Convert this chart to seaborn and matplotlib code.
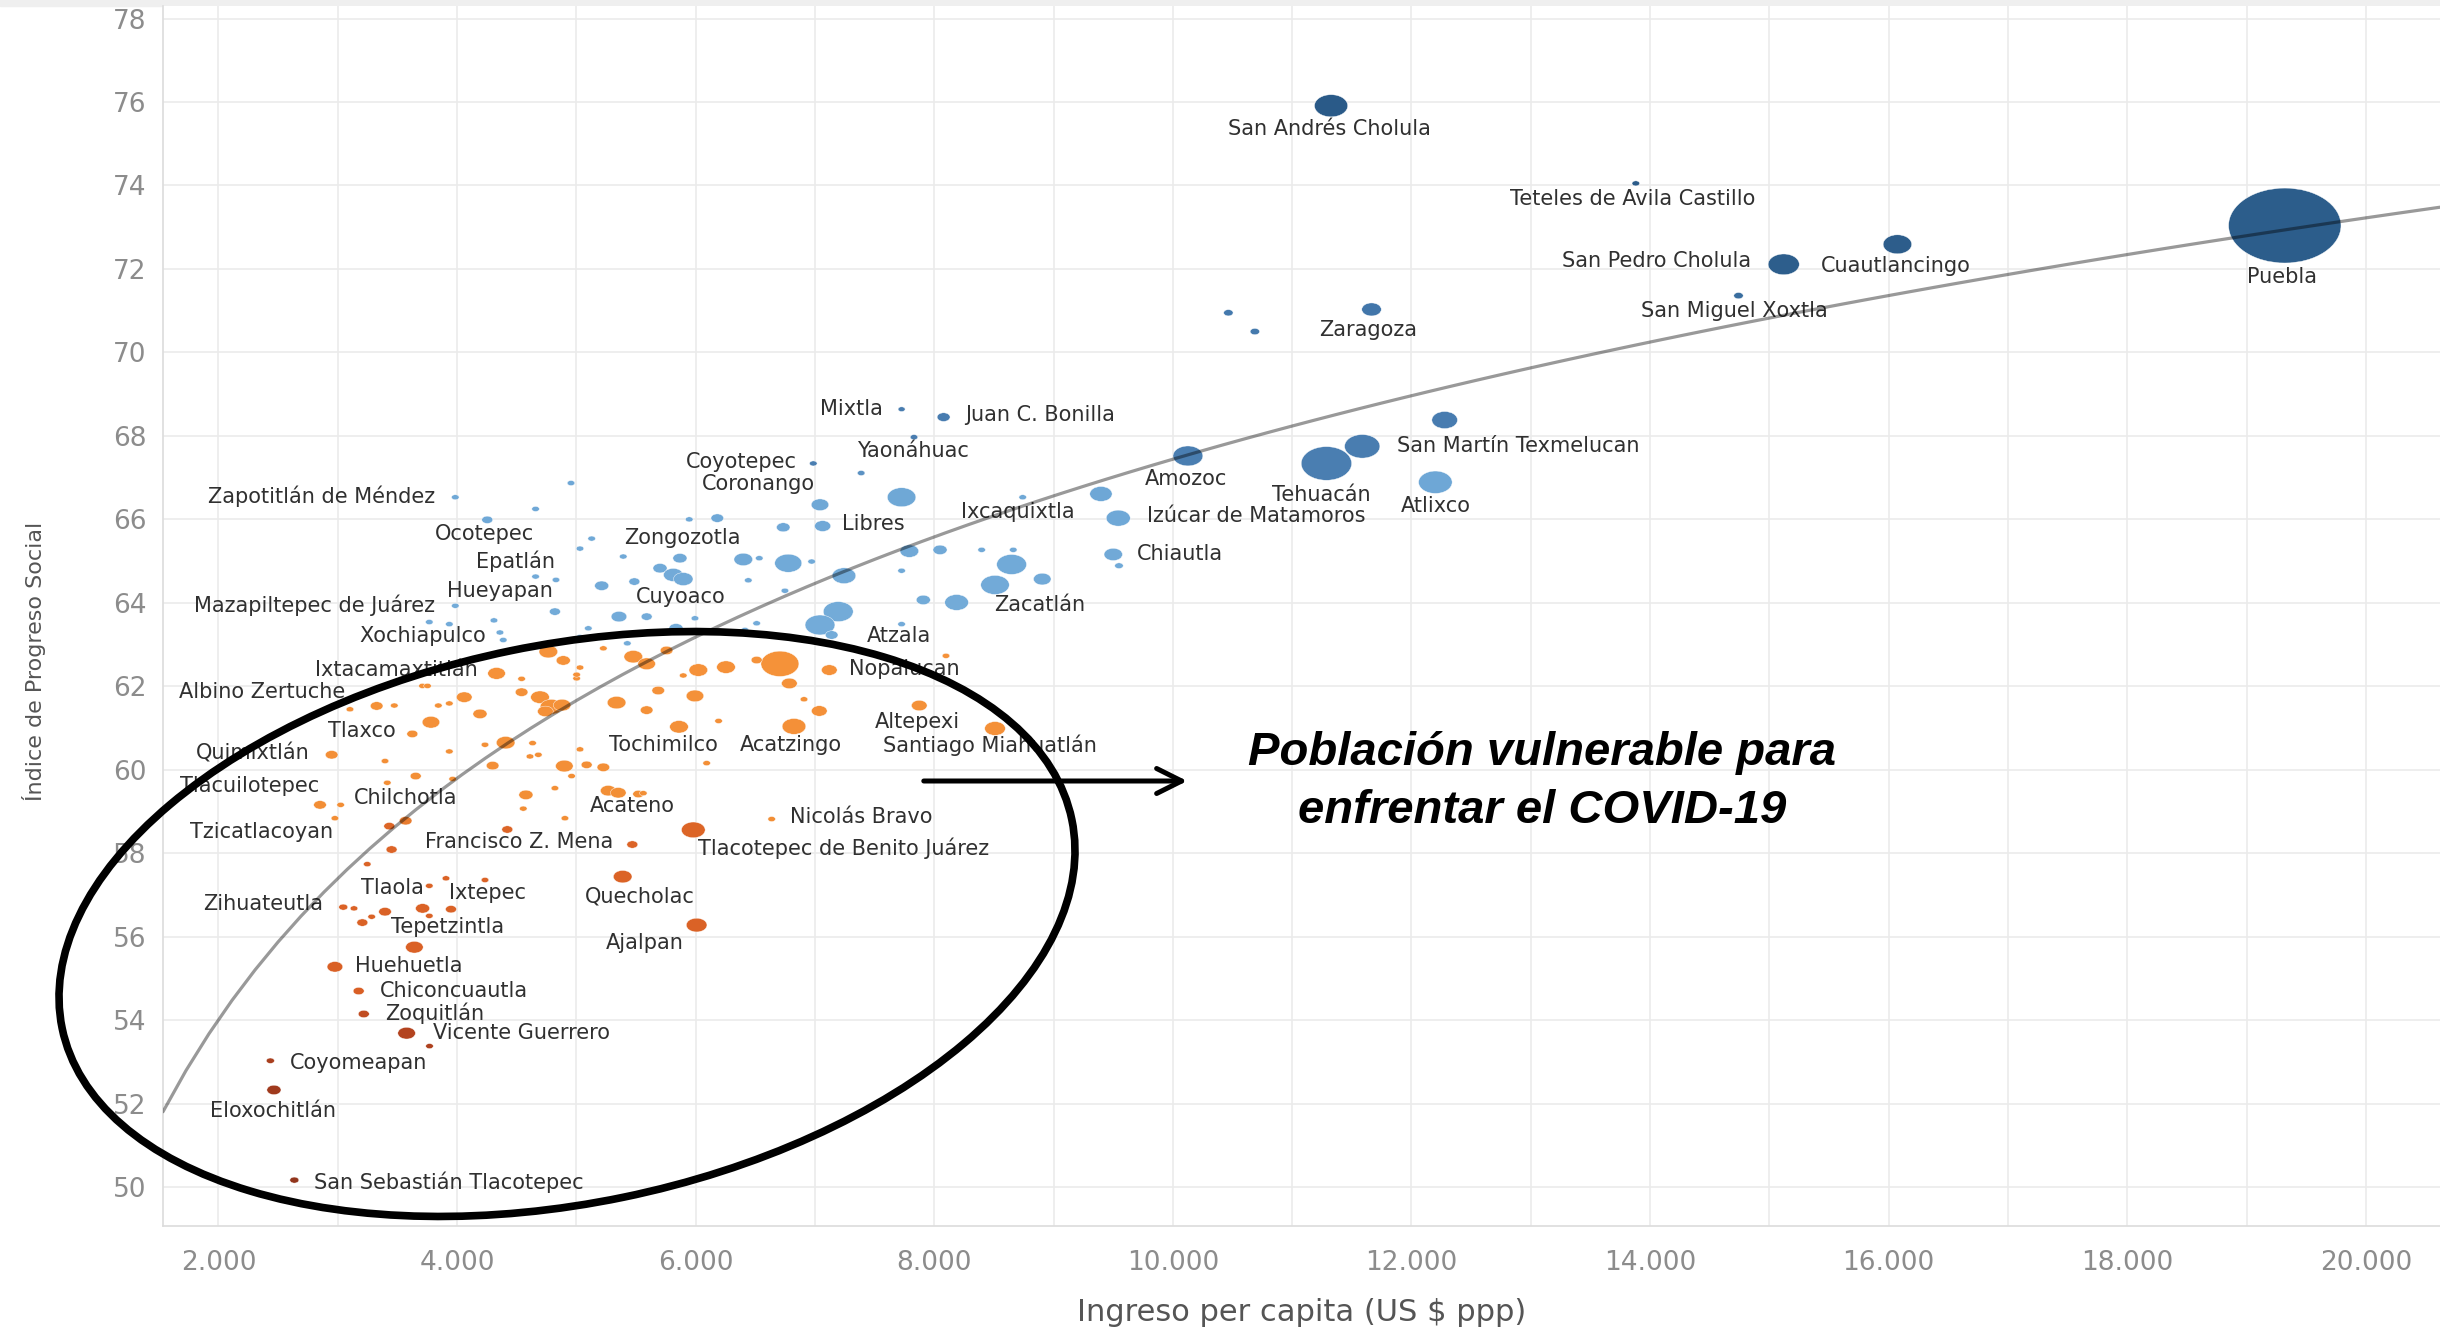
# Índice de Progreso Social vs ingreso per capita, municipios de Puebla
import numpy as np
import pandas as pd
import matplotlib.pyplot as plt
import seaborn as sns
from matplotlib.colors import LinearSegmentedColormap
from matplotlib.markers import MarkerStyle
from matplotlib.patches import Ellipse, Rectangle
from matplotlib.ticker import MultipleLocator, FuncFormatter
from matplotlib.transforms import Affine2D

# --- datos ---
# ingreso per capita (US $ ppp)
ingreso = [
    19320, 11326, 13880, 15120, 16073, 14741, 11665, 10465, 10687, 7726,
    8078, 12278, 11587, 11287, 10126, 12200, 7830, 7387, 6986, 7042,
    7726, 7064, 6734, 6181, 5946, 8741, 9397, 9542, 9500, 9548,
    5868, 6399, 6533, 6776, 6972, 5701, 5812, 5896, 6441, 7791,
    8048, 8397, 8662, 8648, 8509, 8905, 7243, 7726, 6748, 7908,
    8187, 5589, 5994, 6511, 6413, 5835, 7195, 7042, 7140, 7726,
    3985, 4955, 4658, 4253, 5128, 5030, 5393, 4658, 4829, 5212,
    5486, 3985, 4820, 5357, 3767, 3935, 4309, 4359, 4387, 5100,
    5030, 5427,
    4765, 4890, 5030, 5002, 5002, 5226, 5477, 5589, 4331, 4541,
    3710, 3752, 4541, 4695, 4790, 4880, 4740, 5686, 5337, 5589,
    4060, 3326, 3474, 3843, 3935, 4192, 3102, 3781, 3625, 2949,
    3396, 3935, 4234, 4407, 4633, 4611, 4681, 5030, 4899, 5086,
    5226, 4298, 3415, 3653, 3963, 4960, 4820, 4577, 4555, 4904,
    5267, 5351, 5519, 2851, 3024, 2976, 3432, 3569, 4421, 3451,
    5469, 3247, 5388, 3907, 4234, 3767, 3046, 3136, 3396, 3284,
    3206, 3711, 3767, 3949, 6008, 3642, 2976, 3175, 3218, 3577,
    3769, 2435, 2465, 2636, 5756, 6022, 6254, 6706, 6511, 6785,
    7120, 5896, 8098, 5994, 6908, 5860, 6192, 6824, 7036, 7874,
    8509, 6092, 5561, 6637, 5980,
]
# Indice de Progreso Social
ips = [
    73.04, 75.91, 74.05, 72.11, 72.59, 71.36, 71.03, 70.95, 70.50, 68.64,
    68.45, 68.38, 67.75, 67.34, 67.52, 66.89, 67.97, 67.11, 67.34, 66.35,
    66.53, 65.84, 65.81, 66.03, 66.00, 66.53, 66.61, 66.03, 65.16, 64.89,
    65.07, 65.04, 65.07, 64.95, 64.99, 64.83, 64.67, 64.57, 64.54, 65.24,
    65.27, 65.27, 65.27, 64.92, 64.43, 64.57, 64.65, 64.77, 64.29, 64.07,
    64.01, 63.67, 63.63, 63.51, 63.35, 63.39, 63.79, 63.47, 63.23, 63.49,
    66.53, 66.87, 66.25, 65.99, 65.54, 65.30, 65.11, 64.63, 64.55, 64.41,
    64.51, 63.93, 63.79, 63.67, 63.54, 63.49, 63.58, 63.29, 63.11, 63.39,
    63.18, 63.03,
    62.83, 62.62, 62.45, 62.19, 62.28, 62.91, 62.71, 62.54, 62.31, 62.18,
    62.01, 62.01, 61.86, 61.74, 61.51, 61.55, 61.40, 61.90, 61.61, 61.43,
    61.74, 61.53, 61.54, 61.54, 61.59, 61.34, 61.45, 61.14, 60.86, 60.36,
    60.21, 60.44, 60.60, 60.65, 60.64, 60.32, 60.36, 60.49, 60.09, 60.12,
    60.06, 60.10, 59.69, 59.85, 59.78, 59.85, 59.56, 59.40, 59.07, 58.84,
    59.50, 59.45, 59.42, 59.16, 59.16, 58.84, 58.65, 58.78, 58.57, 58.09,
    58.21, 57.74, 57.44, 57.40, 57.36, 57.22, 56.71, 56.68, 56.60, 56.48,
    56.34, 56.68, 56.50, 56.66, 56.28, 55.75, 55.28, 54.70, 54.15, 53.69,
    53.38, 53.03, 52.33, 50.17, 62.86, 62.39, 62.46, 62.54, 62.63, 62.07,
    62.39, 62.26, 62.73, 61.77, 61.69, 61.03, 61.17, 61.04, 61.41, 61.54,
    60.99, 60.16, 59.44, 58.82, 58.56,
]
# poblacion (miles de habitantes)
poblacion = [
    1600, 137, 4, 120, 100, 8, 45, 8, 8, 3,
    18, 80, 155, 320, 110, 140, 4, 4, 4, 36,
    100, 30, 20, 17, 4, 4, 60, 70, 40, 6,
    22, 41, 4, 90, 4, 22, 45, 45, 4, 41,
    22, 4, 4, 110, 100, 36, 68, 4, 4, 22,
    68, 12, 4, 4, 4, 22, 110, 110, 17, 4,
    4, 4, 4, 12, 4, 4, 4, 4, 4, 22,
    12, 4, 12, 28, 4, 4, 4, 4, 4, 4,
    4, 4,
    41, 22, 4, 4, 4, 4, 41, 36, 36, 4,
    4, 4, 17, 41, 60, 36, 28, 17, 41, 17,
    28, 17, 4, 4, 4, 22, 4, 36, 12, 17,
    4, 4, 4, 41, 4, 4, 4, 4, 36, 12,
    17, 17, 4, 12, 4, 4, 4, 22, 4, 4,
    28, 28, 12, 17, 4, 4, 12, 17, 12, 12,
    12, 4, 41, 4, 4, 4, 7, 4, 17, 4,
    12, 22, 4, 12, 51, 36, 28, 12, 12, 36,
    4, 5, 22, 7, 17, 41, 41, 180, 12, 28,
    28, 4, 4, 36, 4, 41, 4, 68, 28, 28,
    51, 4, 4, 4, 68,
]

# etiquetas de municipios
etiquetas = [
    "San Andrés Cholula", "Teteles de Avila Castillo", "San Pedro Cholula",
    "Cuautlancingo", "Puebla", "San Miguel Xoxtla", "Zaragoza", "Mixtla",
    "Juan C. Bonilla", "Yaonáhuac", "San Martín Texmelucan", "Coyotepec",
    "Coronango", "Amozoc", "Tehuacán", "Atlixco", "Zapotitlán de Méndez",
    "Ixcaquixtla", "Izúcar de Matamoros", "Libres", "Ocotepec", "Zongozotla",
    "Chiautla", "Epatlán", "Hueyapan", "Cuyoaco", "Mazapiltepec de Juárez",
    "Zacatlán", "Xochiapulco", "Atzala", "Ixtacamaxtitlán", "Nopalucan",
    "Albino Zertuche", "Tlaxco", "Altepexi", "Tochimilco", "Acatzingo",
    "Santiago Miahuatlán", "Quimixtlán", "Tlacuilotepec", "Chilchotla",
    "Acateno", "Nicolás Bravo", "Tzicatlacoyan", "Francisco Z. Mena",
    "Tlacotepec de Benito Juárez", "Tlaola", "Ixtepec", "Quecholac",
    "Zihuateutla", "Tepetzintla", "Ajalpan", "Huehuetla", "Chiconcuautla",
    "Zoquitlán", "Vicente Guerrero", "Coyomeapan", "Eloxochitlán",
    "San Sebastián Tlacotepec",
]
etiqueta_x = [
    11313, 13856, 14052, 16061, 19295, 14704, 11639, 7308, 8887, 7817,
    12891, 6382, 6526, 10113, 11248, 12200, 2861, 8704, 10700, 7491,
    4230, 5887, 10061, 4491, 4361, 5874, 2809, 8887, 3709, 7700,
    3487, 7752, 2365, 3200, 7856, 5730, 6800, 8469, 2287, 2261,
    3565, 5469, 7387, 2365, 4517, 7243, 3461, 4256, 5535, 2378,
    3917, 5574, 3591, 3970, 3813, 4543, 3174, 2457, 3930,
]
etiqueta_y = [
    75.35, 73.67, 72.18, 72.07, 71.81, 70.99, 70.54, 68.64, 68.49, 67.63,
    67.75, 67.37, 66.85, 66.96, 66.59, 66.33, 66.55, 66.18, 66.07, 65.88,
    65.66, 65.55, 65.17, 64.99, 64.28, 64.13, 63.94, 63.94, 63.20, 63.20,
    62.38, 62.41, 61.86, 60.92, 61.15, 60.59, 60.59, 60.59, 60.40, 59.62,
    59.32, 59.13, 58.87, 58.50, 58.28, 58.13, 57.16, 57.05, 56.97, 56.78,
    56.23, 55.85, 55.29, 54.70, 54.17, 53.69, 52.98, 51.83, 50.11,
]

df = pd.DataFrame({"ingreso": ingreso, "ips": ips, "poblacion": poblacion})

# paleta divergente naranja-azul segun el IPS
vmin, vmax = 49.5, 76.5
paradas = [(49.5, "#8e331c"), (52.5, "#a23b1d"), (54.0, "#b8461f"), (54.6, "#d95f25"),
           (58.6, "#dc6527"), (58.8, "#f28e35"), (62.95, "#f5923a"), (63.05, "#74acd9"),
           (66.95, "#6ea7d6"), (67.2, "#4a7eb1"), (71.0, "#4479ad"), (72.0, "#2d5e8c"),
           (76.5, "#2a5a88")]
cmap = LinearSegmentedColormap.from_list(
    "naranja_azul", [((v - vmin) / (vmax - vmin), c) for v, c in paradas])

sns.set_style("whitegrid")
plt.rcParams["font.family"] = ["DejaVu Sans"]

fig = plt.figure(figsize=(24.4, 13.29), dpi=100)
ax = fig.add_axes([163 / 2440, 1 - 1226 / 1329, 1 - 163 / 2440, (1226 - 6) / 1329])

xlim = (1535, 20621)
ylim = (49.07, 78.3)
ax.set_xlim(xlim)
ax.set_ylim(ylim)

# puntos (elipses, la grafica original esta estirada en horizontal)
elipse = MarkerStyle("o", transform=Affine2D().scale(1.5, 1.0))
sns.scatterplot(data=df, x="ingreso", y="ips", hue="ips", palette=cmap,
                hue_norm=(vmin, vmax), size="poblacion", sizes=(6, 2912),
                size_norm=(0, 1600), marker=elipse, edgecolor="white",
                linewidth=0.3, legend=False, ax=ax, zorder=2)

# linea de tendencia logaritmica
sns.regplot(data=df, x="ingreso", y="ips", logx=True, scatter=False, ci=None,
            truncate=False, ax=ax,
            line_kws=dict(color="black", alpha=0.4, lw=2.3, zorder=4))

for nombre, tx, ty in zip(etiquetas, etiqueta_x, etiqueta_y):
    ax.text(tx, ty, nombre, ha="center", va="center", fontsize=15,
            color="#303030", zorder=3)

ax.set_xlim(xlim)
ax.set_ylim(ylim)

# ejes y rejilla
ax.xaxis.set_major_locator(MultipleLocator(2000))
ax.xaxis.set_minor_locator(MultipleLocator(1000))
ax.yaxis.set_major_locator(MultipleLocator(2))
ax.xaxis.set_major_formatter(FuncFormatter(lambda v, p: f"{int(v):,}".replace(",", ".")))
ax.grid(which="major", color="#ebebeb", lw=1.2)
ax.grid(which="minor", axis="x", color="#ebebeb", lw=1.2)
ax.tick_params(axis="both", which="both", length=6, color="#e4e4e4", width=1.2)
ax.tick_params(axis="x", which="major", labelsize=19, labelcolor="#8c8c8c", pad=11)
ax.tick_params(axis="y", labelsize=19, labelcolor="#8c8c8c", pad=6)
for s in ["top", "right"]:
    ax.spines[s].set_visible(False)
for s in ["left", "bottom"]:
    ax.spines[s].set_color("#dcdcdc")
    ax.spines[s].set_linewidth(1.2)

ax.set_xlabel("Ingreso per capita (US $ ppp)", fontsize=22, color="#555555")
ax.set_ylabel("Índice de Progreso Social", fontsize=16, color="#555555")
ax.xaxis.set_label_coords(0.5, -0.0705)
ax.xaxis.label.set_va("center")
ax.yaxis.set_label_coords(-0.0567, 0.463)
ax.yaxis.label.set_va("center")

# anotacion: elipse, flecha y texto
ax.add_patch(Ellipse((5.67, 4.05), width=10.31, height=5.58, angle=11.67,
                     transform=fig.dpi_scale_trans, fill=False, lw=5.5,
                     ec="black", zorder=5, clip_on=False))
ax.annotate("", xy=(1190, 548), xycoords="figure pixels",
            xytext=(921, 548), textcoords="figure pixels",
            arrowprops=dict(arrowstyle="->", lw=3.6, color="black",
                            mutation_scale=45))
for texto, ypix in [("Población vulnerable para", 753), ("enfrentar el COVID-19", 811)]:
    fig.text(1542 / 2440, 1 - ypix / 1329, texto, ha="center", va="center",
             fontsize=34, fontweight="bold", fontstyle="italic",
             family=["Liberation Sans", "DejaVu Sans"], color="black")

fig.add_artist(Rectangle((0, 1 - 6 / 1329), 1, 6 / 1329, transform=fig.transFigure,
                         color="#efefef", zorder=-1))

plt.savefig("out.png", dpi=100)
